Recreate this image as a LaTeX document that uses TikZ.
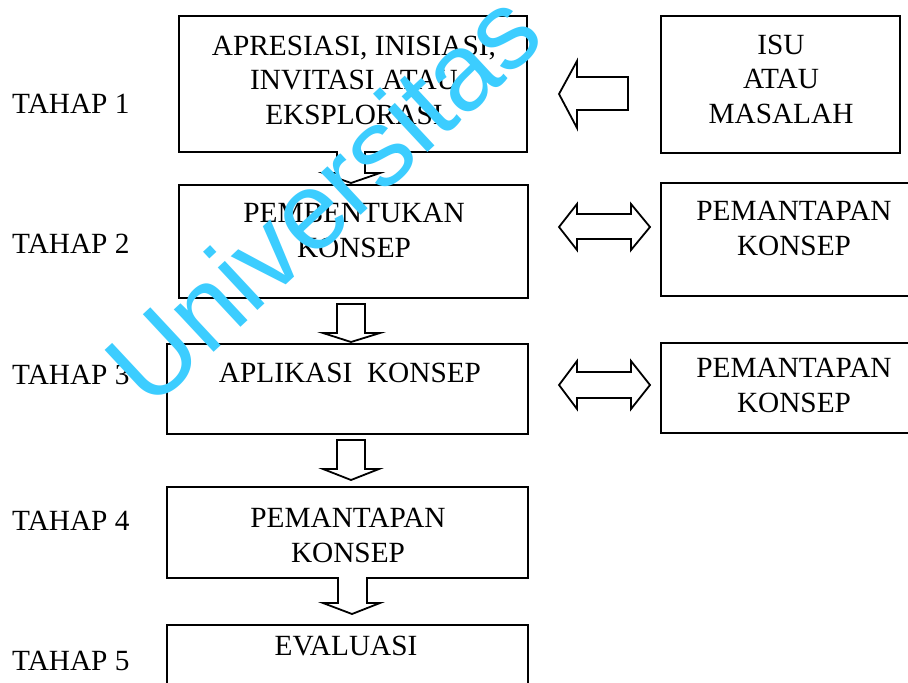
\documentclass[tikz,border=0pt]{standalone}
\usepackage{fontspec}
\setmainfont{Liberation Serif}
\newfontfamily\wmfont{Liberation Sans}
\definecolor{wmcyan}{RGB}{60,205,255}
\begin{document}
\begin{tikzpicture}[x=1pt,y=-1pt,
  boxnode/.style={draw, line width=2.1pt, rectangle, inner sep=0pt, anchor=north west},
  txt/.style={inner sep=0pt, align=center, anchor=base, font=\fontsize{29.3}{34.5}\selectfont},
  lbl/.style={inner sep=0pt, anchor=base west, font=\fontsize{29.3}{34.5}\selectfont},
  blk/.style={draw, fill=white, line width=1.8pt, line join=miter},
  wm/.style={inner sep=0pt, text=wmcyan, font=\wmfont\fontsize{110}{110}\selectfont}]
\clip (0,0) rectangle (908,683);
\fill[white] (0,0) rectangle (908,683);
% boxes
\node[boxnode, minimum width=348pt, minimum height=136pt] (b1) at (178,15) {};
\node[boxnode, minimum width=349pt, minimum height=113pt] (b2) at (178,184) {};
\node[boxnode, minimum width=361pt, minimum height=90pt] (b3) at (166,343) {};
\node[boxnode, minimum width=361pt, minimum height=91pt] (b4) at (166,486) {};
\node[boxnode, minimum width=361pt, minimum height=90pt] (b5) at (166,624) {};
\node[boxnode, minimum width=239pt, minimum height=137pt] (r1) at (660,15) {};
\node[boxnode, minimum width=270pt, minimum height=113pt] (r2) at (660,182) {};
\node[boxnode, minimum width=270pt, minimum height=90pt] (r3) at (660,342) {};
% texts (anchor base = baseline of the last line)
\node[txt] (t1) at (354,124) {APRESIASI, INISIASI,\\INVITASI ATAU\\EKSPLORASI};
\node[txt] (t2) at (354,257) {PEMBENTUKAN\\KONSEP};
\node[txt] (t3) at (350,382) {APLIKASI\ \ KONSEP};
\node[txt] (t4) at (348,562) {PEMANTAPAN\\KONSEP};
\node[txt] (t5) at (346,655) {EVALUASI};
\node[txt] (u1) at (781,123) {ISU\\ATAU\\MASALAH};
\node[txt] (u2) at (794,255) {PEMANTAPAN\\KONSEP};
\node[txt] (u3) at (794,412) {PEMANTAPAN\\KONSEP};
% stage labels
\node[lbl] (s1) at (12,113) {TAHAP 1};
\node[lbl] (s2) at (12,253) {TAHAP 2};
\node[lbl] (s3) at (12,384) {TAHAP 3};
\node[lbl] (s4) at (12,530) {TAHAP 4};
\node[lbl] (s5) at (12,670) {TAHAP 5};
% block arrows
\draw[blk] (628,77) -- (577,77) -- (577,61) -- (559,94) -- (577,128) -- (577,110) -- (628,110) -- cycle;
\draw[blk] (577,214) -- (631,214) -- (631,204) -- (650,227) -- (631,250) -- (631,239) -- (577,239) -- (577,250) -- (559,227) -- (577,204) -- cycle;
\draw[blk] (577,372) -- (631,372) -- (631,361) -- (650,385) -- (631,409) -- (631,398) -- (577,398) -- (577,409) -- (559,385) -- (577,361) -- cycle;
\draw[blk] (337,151) -- (337,173) -- (323,173) -- (351,183) -- (380,173) -- (365,173) -- (365,151);
\draw[blk] (337,304) -- (365,304) -- (365,333) -- (380,333) -- (351,342) -- (323,333) -- (337,333) -- cycle;
\draw[blk] (337,440) -- (365,440) -- (365,469) -- (379,469) -- (351,480) -- (323,469) -- (337,469) -- cycle;
\draw[blk] (338,577) -- (338,603) -- (323,603) -- (352,614) -- (380,603) -- (367,603) -- (367,577);
% watermark
\node[wm, rotate=43, anchor=base west] (wm) at (150,412) {Universitas};
\end{tikzpicture}
\end{document}
